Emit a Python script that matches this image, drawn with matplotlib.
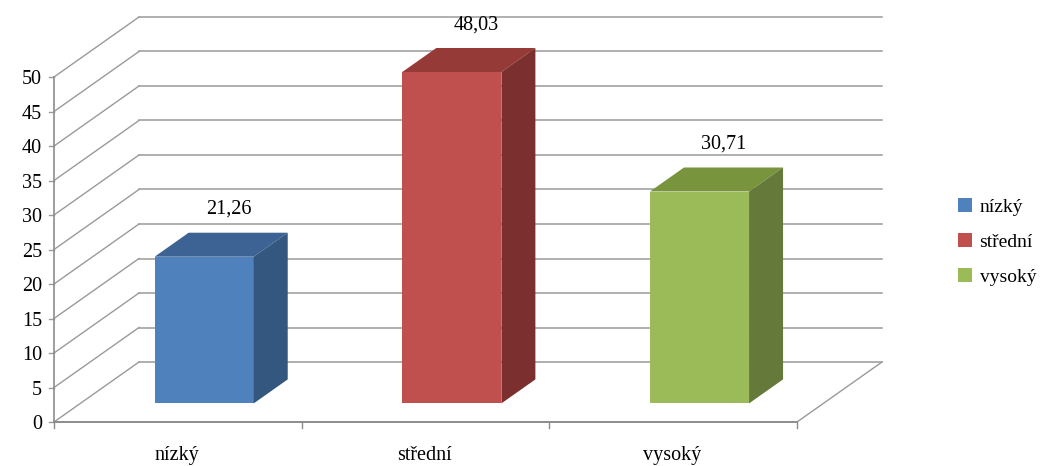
import matplotlib
matplotlib.use("Agg")
import matplotlib.pyplot as plt
from matplotlib.patches import Polygon, Patch

plt.rcParams["font.family"] = ["Liberation Serif", "DejaVu Serif"]

categories = ["nízký", "střední", "vysoký"]
values = [21.26, 48.03, 30.71]
y_ticks = list(range(0, 55, 5))

front_colors = ["#4f81bd", "#c0504d", "#9bbb59"]
side_colors = ["#34577f", "#7b2f2e", "#657a3a"]
top_colors = ["#3c6394", "#963a37", "#78943d"]

# pixel scale of the category / value axes on the front plane
PX_X = 247.67
PX_Y = 6.9
# oblique offset from front to back wall, in data units
DX = 85 / PX_X
DY = 60 / PX_Y
# bar placement along the depth axis and in the category slot
Z0, Z1 = 0.31, 0.71
BAR_W = 0.40
GRID = "#9a9a9a"

fig = plt.figure(figsize=(10.4, 4.66), dpi=100)
ax = fig.add_axes([0, 0, 1, 1])
ax.set_xlim(-54 / PX_X, (1040 - 54) / PX_X)
ax.set_ylim(-44 / PX_Y, (466 - 44) / PX_Y)
ax.axis("off")

n = len(categories)

# back wall gridlines and left wall diagonals
for v in y_ticks:
    ax.plot([DX, n + DX], [v + DY, v + DY], color=GRID, lw=1.1, zorder=1)
    ax.plot([0, DX], [v, v + DY], color=GRID, lw=1.0, zorder=1)
    ax.plot([-5 / PX_X, 0], [v, v], color=GRID, lw=1.0, zorder=2)
    ax.annotate(str(v), (0, v), xytext=(-12 * 0.72, -2), textcoords="offset points",
                ha="right", va="center", fontsize=14.5)

# floor right edge, front axes
ax.plot([n, n + DX], [0, DY], color=GRID, lw=1.0, zorder=1)
ax.plot([0, n], [0, 0], color="#8c8c8c", lw=1.4, zorder=2)
ax.plot([0, 0], [0, y_ticks[-1]], color="#8c8c8c", lw=1.2, zorder=2)
for i in range(n + 1):
    ax.plot([i, i], [0, -6 / PX_Y], color="#8c8c8c", lw=1.0, zorder=2)

ddx = (Z1 - Z0) * DX
ddy = (Z1 - Z0) * DY
base = Z0 * DY
for i, (cat, val) in enumerate(zip(categories, values)):
    xl = i + 0.5 - BAR_W / 2 + Z0 * DX
    xr = xl + BAR_W
    ax.bar(xl, val, width=BAR_W, bottom=base, align="edge",
           color=front_colors[i], zorder=5, label=cat)
    top = base + val
    ax.add_patch(Polygon([(xl, top), (xr, top), (xr + ddx, top + ddy), (xl + ddx, top + ddy)],
                         closed=True, facecolor=top_colors[i], edgecolor="none", zorder=5))
    ax.add_patch(Polygon([(xr, base), (xr, top), (xr + ddx, top + ddy), (xr + ddx, base + ddy)],
                         closed=True, facecolor=side_colors[i], edgecolor="none", zorder=5))
    ax.annotate(f"{val:.2f}".replace(".", ","), (xl + BAR_W / 2 + ddx, top + ddy),
                xytext=(-7, 10), textcoords="offset points",
                ha="center", va="bottom", fontsize=14.5, zorder=6)
    ax.annotate(cat, (i + 0.5, 0), xytext=(-1, -27.5), textcoords="offset points",
                ha="center", va="baseline", fontsize=14.5)

handles = [Patch(facecolor=c, edgecolor="none") for c in front_colors]
ax.legend(handles, categories, loc="center left", bbox_to_anchor=(948 / 1040, 1 - 242 / 466),
          frameon=False, fontsize=14, handlelength=0.72, handleheight=0.72,
          handletextpad=0.4, labelspacing=0.9, borderpad=0)

fig.savefig("out.png", dpi=100)
